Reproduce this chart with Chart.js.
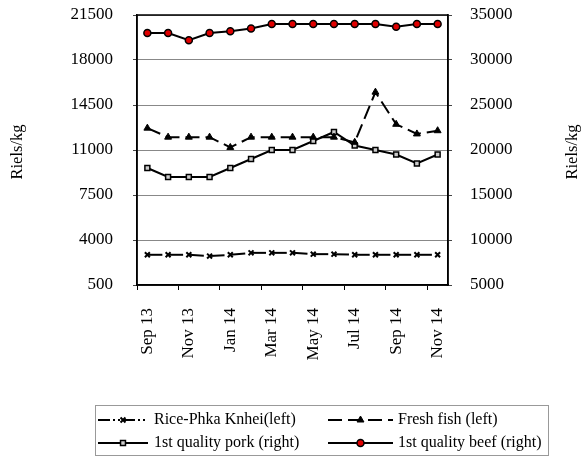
<!DOCTYPE html>
<html>
<head>
<meta charset="utf-8">
<script src="https://cdn.jsdelivr.net/npm/chart.js@4/dist/chart.umd.min.js"></script>
<style>
  html, body { margin: 0; padding: 0; background: #fff; }
  #wrap { width: 581px; height: 457px; }
</style>
</head>
<body>
<div id="wrap"><canvas id="priceChart" width="581" height="457"></canvas></div>
<script>
const months = ["Sep 13", "Oct 13", "Nov 13", "Dec 13", "Jan 14", "Feb 14", "Mar 14", "Apr 14",
    "May 14", "Jun 14", "Jul 14", "Aug 14", "Sep 14", "Oct 14", "Nov 14"];

// left axis (Riels/kg)
const rice = [2850, 2850, 2850, 2750, 2850, 3000, 3000, 3000, 2900, 2900, 2850, 2850, 2850, 2850, 2850];
const fish = [12700, 12000, 12000, 12000, 11200, 12000, 12000, 12000, 12000, 12000, 11600, 15500, 13000, 12250, 12500];
// right axis (Riels/kg)
const pork = [18000, 17000, 17000, 17000, 18000, 19000, 20000, 20000, 21000, 22000, 20500, 20000, 19500, 18500, 19500];
const beef = [33000, 33000, 32200, 33000, 33200, 33500, 34000, 34000, 34000, 34000, 34000, 34000, 33700, 34000, 34000];

const leftTicks = [500, 4000, 7500, 11000, 14500, 18000, 21500];
const rightTicks = [5000, 10000, 15000, 20000, 25000, 30000, 35000];

const seriesNames = ["Rice-Phka Knhei(left)", "Fresh fish (left)", "1st quality pork (right)", "1st quality beef (right)"];

const FONT = "'Liberation Serif', 'Times New Roman', serif";

const riceDash = [12, 3, 2, 3, 2, 3];
const fishDash = [14, 6];

// frame, axis titles and the boxed legend
const extrasPlugin = {
    id: "extras",
    afterDraw(chart) {
        const ctx = chart.ctx;
        const area = chart.chartArea;
        ctx.save();
        ctx.strokeStyle = "#000";
        ctx.lineWidth = 1.5;
        ctx.strokeRect(area.left, area.top, area.right - area.left, area.bottom - area.top);

        // axis titles, both reading bottom to top
        ctx.fillStyle = "#000";
        ctx.font = "16.5px " + FONT;
        ctx.textAlign = "center";
        ctx.textBaseline = "middle";
        const midY = (area.top + area.bottom) / 2 + 2;
        [18, 573].forEach(x => {
            ctx.save();
            ctx.translate(x, midY);
            ctx.rotate(-Math.PI / 2);
            ctx.fillText("Riels/kg", 0, 0);
            ctx.restore();
        });

        // legend box
        ctx.strokeStyle = "#999";
        ctx.lineWidth = 1;
        ctx.strokeRect(95.5, 405.5, 453, 50);

        const slots = [
            { x0: 98, x1: 148, tx: 154, y: 420 },
            { x0: 328, x1: 393, tx: 398, y: 420 },
            { x0: 98, x1: 148, tx: 154, y: 443 },
            { x0: 328, x1: 393, tx: 398, y: 443 },
        ];
        chart.data.datasets.forEach((ds, i) => {
            const s = slots[i];
            ctx.save();
            ctx.strokeStyle = ds.borderColor;
            ctx.lineWidth = ds.borderWidth;
            ctx.setLineDash(ds.borderDash || []);
            ctx.beginPath();
            ctx.moveTo(s.x0, s.y);
            ctx.lineTo(s.x1, s.y);
            ctx.stroke();
            ctx.setLineDash([]);
            ctx.fillStyle = ds.pointBackgroundColor;
            ctx.strokeStyle = ds.pointBorderColor;
            ctx.lineWidth = ds.pointBorderWidth;
            Chart.helpers.drawPoint(ctx, {
                pointStyle: ds.pointStyle,
                radius: ds.pointRadius,
                rotation: 0,
                borderWidth: ds.pointBorderWidth,
            }, (s.x0 + s.x1) / 2, s.y);
            ctx.restore();

            ctx.fillStyle = "#000";
            ctx.font = "16px " + FONT;
            ctx.textAlign = "left";
            ctx.textBaseline = "middle";
            ctx.fillText(seriesNames[i], s.tx, s.y);
        });
        ctx.restore();
    }
};

function noPad(s) {
    s.paddingTop = 0;
    s.paddingBottom = 0;
    s.paddingLeft = 0;
    s.paddingRight = 0;
}

const ctx = document.getElementById("priceChart").getContext("2d");

new Chart(ctx, {
    type: "line",
    data: {
        labels: months,
        datasets: [
            {
                label: seriesNames[0],
                data: rice,
                yAxisID: "y",
                borderColor: "#000",
                borderWidth: 2,
                borderDash: riceDash,
                // dash restarts at every point, like the original: long bar then a small gap
                segment: {
                    borderDash: c => (c.p0DataIndex % 2 ? [15, 30] : [15, 31]),
                },
                pointStyle: "crossRot",
                pointRadius: 3.5,
                pointBorderWidth: 2,
                pointBackgroundColor: "#000",
                pointBorderColor: "#000",
            },
            {
                label: seriesNames[1],
                data: fish,
                yAxisID: "y",
                borderColor: "#000",
                borderWidth: 2,
                borderDash: fishDash,
                pointStyle: "triangle",
                pointRadius: 4,
                pointBorderWidth: 1,
                pointBackgroundColor: "#000",
                pointBorderColor: "#000",
            },
            {
                label: seriesNames[2],
                data: pork,
                yAxisID: "y1",
                borderColor: "#000",
                borderWidth: 2,
                pointStyle: "rect",
                pointRadius: 3.5,
                pointBorderWidth: 1.5,
                pointBackgroundColor: "#ccc",
                pointBorderColor: "#000",
            },
            {
                label: seriesNames[3],
                data: beef,
                yAxisID: "y1",
                borderColor: "#000",
                borderWidth: 2,
                pointStyle: "circle",
                pointRadius: 3.5,
                pointBorderWidth: 1.5,
                pointBackgroundColor: "#e00000",
                pointBorderColor: "#000",
            },
        ]
    },
    options: {
        responsive: false,
        animation: false,
        events: [],
        layout: { padding: { top: 15, left: 0, right: 0, bottom: 0 } },
        plugins: {
            legend: { display: false },
            tooltip: { enabled: false },
        },
        elements: { line: { tension: 0 } },
        scales: {
            x: {
                type: "category",
                offset: true,
                grid: {
                    offset: true,
                    drawOnChartArea: false,
                    tickLength: 5,
                    tickColor: c => (c.index % 2 === 0 ? "#000" : "rgba(0,0,0,0)"),
                },
                border: { display: true, color: "#000", width: 1.5 },
                ticks: {
                    autoSkip: false,
                    minRotation: 90,
                    maxRotation: 90,
                    padding: 18,
                    color: "#000",
                    font: { family: FONT, size: 17 },
                    callback: (v, i) => (i % 2 === 0 ? months[i] : ""),
                },
                afterFit: s => { s.height = 172; noPad(s); },
            },
            y: {
                position: "left",
                min: 500,
                max: 21500,
                afterBuildTicks: s => { s.ticks = leftTicks.map(v => ({ value: v })); },
                grid: { color: "#888", lineWidth: 1, tickLength: 4, tickColor: "#444" },
                border: { display: true, color: "#000", width: 1.5 },
                ticks: {
                    padding: 20,
                    color: "#000",
                    font: { family: FONT, size: 17 },
                    callback: v => String(v),
                },
                afterFit: s => { s.width = 137; noPad(s); },
            },
            y1: {
                position: "right",
                min: 5000,
                max: 35000,
                afterBuildTicks: s => { s.ticks = rightTicks.map(v => ({ value: v })); },
                grid: { drawOnChartArea: false, tickLength: 4, tickColor: "#444" },
                border: { display: true, color: "#000", width: 1.5 },
                ticks: {
                    padding: 18,
                    color: "#000",
                    font: { family: FONT, size: 17 },
                    callback: v => String(v),
                },
                afterFit: s => { s.width = 133; noPad(s); },
            },
        }
    },
    plugins: [extrasPlugin]
});
</script>
</body>
</html>
